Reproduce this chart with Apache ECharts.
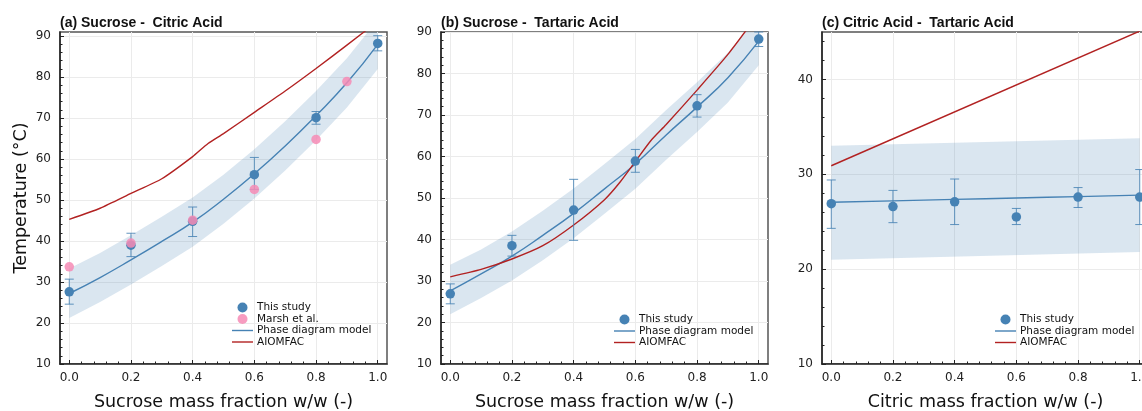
<!DOCTYPE html>
<html>
<head>
  <meta charset="utf-8">
  <title>Melting temperatures - binary mixtures</title>
  <script src="https://cdn.jsdelivr.net/npm/echarts@6.0.0/dist/echarts.min.js"></script>
  <style>
    html, body { margin: 0; padding: 0; background: #fff; }
    #chart { width: 1142px; height: 411px; }
  </style>
</head>
<body>
<div id="chart"></div>
<script>
  // ---- axis ticks ----
  const xMajor = [0, 0.2, 0.4, 0.6, 0.8, 1.0];
  const xMinor = [0.04, 0.08, 0.12, 0.16, 0.24, 0.28, 0.32, 0.36, 0.44, 0.48, 0.52, 0.56,
                  0.64, 0.68, 0.72, 0.76, 0.84, 0.88, 0.92, 0.96];
  const yMajorAB = [10, 20, 30, 40, 50, 60, 70, 80, 90];
  const yMajorC = [10, 20, 30, 40];
  const yMinorAB = [12, 14, 16, 18, 22, 24, 26, 28, 32, 34, 36, 38, 42, 44, 46, 48,
                    52, 54, 56, 58, 62, 64, 66, 68, 72, 74, 76, 78, 82, 84, 86, 88];
  const yMinorC = [12, 14, 16, 18, 22, 24, 26, 28, 32, 34, 36, 38, 42, 44];

  // ---- (a) sucrose - citric acid ----
  const studyX = [0, 0.2, 0.4, 0.6, 0.8, 1.0];
  const aStudy = [27.6, 39.0, 44.8, 56.2, 70.1, 88.2];
  const aStudyLow = [24.6, 36.2, 41.1, 52.6, 68.5, 86.4];
  const aStudyHigh = [30.7, 41.9, 48.3, 60.4, 71.6, 90.1];
  const marshX = [0, 0.2, 0.4, 0.6, 0.8, 0.9];
  const aMarsh = [33.7, 39.5, 45.1, 52.6, 64.8, 78.9];
  const modelX = [0, 0.1, 0.2, 0.3, 0.4, 0.5, 0.6, 0.7, 0.8, 0.9, 1.0];
  const aModel = [27.2, 31.1, 35.4, 39.9, 44.6, 50.2, 56.4, 63.2, 70.6, 78.6, 88.0];
  const aBandLow = [21.2, 25.1, 29.4, 33.9, 38.6, 44.2, 50.4, 57.2, 64.6, 72.6, 82.0];
  const aBandHigh = [33.3, 37.1, 41.4, 45.9, 50.6, 56.2, 62.4, 69.2, 76.6, 84.6, 94.0];
  const aAiomfacX = [0, 0.1, 0.2, 0.3, 0.4, 0.45, 0.5, 0.6, 0.7, 0.8, 0.9, 1.0];
  const aAiomfac = [45.3, 48.0, 51.6, 55.2, 60.6, 63.8, 66.2, 71.4, 76.6, 82.1, 87.8, 93.6];

  // ---- (b) sucrose - tartaric acid ----
  const bStudy = [26.9, 38.5, 47.1, 58.9, 72.2, 88.3];
  const bStudyLow = [24.5, 36.0, 39.8, 56.2, 69.5, 86.5];
  const bStudyHigh = [29.3, 41.0, 54.5, 61.7, 74.9, 90.0];
  const bModel = [27.6, 31.7, 36.0, 41.0, 46.3, 52.2, 58.2, 65.2, 71.9, 79.0, 87.8];
  const bBandLow = [22.0, 25.9, 30.1, 35.0, 40.3, 46.2, 52.2, 59.2, 65.9, 73.0, 82.0];
  const bBandHigh = [33.9, 37.6, 41.9, 46.9, 52.3, 58.2, 64.2, 71.2, 77.9, 85.0, 94.0];
  const bAiomfacX = [0, 0.1, 0.2, 0.3, 0.4, 0.5, 0.55, 0.6, 0.65, 0.7, 0.8, 0.9, 1.0];
  const bAiomfac = [31.0, 32.8, 35.3, 38.5, 43.5, 49.6, 53.8, 58.8, 63.8, 67.7, 76.0, 84.6, 94.5];

  // ---- (c) citric acid - tartaric acid ----
  const cStudy = [26.9, 26.6, 27.1, 25.5, 27.6, 27.6];
  const cStudyLow = [24.3, 24.9, 24.7, 24.7, 26.5, 24.7];
  const cStudyHigh = [29.4, 28.3, 29.5, 26.4, 28.6, 30.5];
  const cModelX = [0, 0.2, 0.4, 0.6, 0.8, 1.0];
  const cModel = [27.05, 27.2, 27.35, 27.5, 27.65, 27.8];
  const cBandX = [0, 1.0];
  const cBandLow = [21.0, 21.8];
  const cBandHigh = [33.0, 33.8];
  const cAiomfacX = [0, 1.0];
  const cAiomfac = [30.9, 45.1];

  const BLUE = '#4682b4';
  const PINK = '#f68bb5';
  const RED = '#b22222';
  const TXT = 'DejaVu Sans';
  const LINE_ICON = 'path://M0,0 L21,0 L21,1.4 L0,1.4 Z';

  const panels = [
    { title: '(a) Sucrose -  Citric Acid', xName: 'Sucrose mass fraction w/w (-)', left: 60, yMax: 91,
      yMajor: yMajorAB, yMinor: yMinorAB, study: aStudy, low: aStudyLow, high: aStudyHigh,
      marsh: aMarsh, modelX: modelX, model: aModel, bandX: modelX, bandLow: aBandLow, bandHigh: aBandHigh,
      aioX: aAiomfacX, aio: aAiomfac, legendLeft: 232, legendTop: 302 },
    { title: '(b) Sucrose -  Tartaric Acid', xName: 'Sucrose mass fraction w/w (-)', left: 441, yMax: 90,
      yMajor: yMajorAB, yMinor: yMinorAB, study: bStudy, low: bStudyLow, high: bStudyHigh,
      marsh: null, modelX: modelX, model: bModel, bandX: modelX, bandLow: bBandLow, bandHigh: bBandHigh,
      aioX: bAiomfacX, aio: bAiomfac, legendLeft: 614, legendTop: 314 },
    { title: '(c) Citric Acid -  Tartaric Acid', xName: 'Citric mass fraction w/w (-)', left: 822, yMax: 45,
      yMajor: yMajorC, yMinor: yMinorC, study: cStudy, low: cStudyLow, high: cStudyHigh,
      marsh: null, modelX: cModelX, model: cModel, bandX: cBandX, bandLow: cBandLow, bandHigh: cBandHigh,
      aioX: cAiomfacX, aio: cAiomfac, legendLeft: 995, legendTop: 314 }
  ];

  const pairs = (xs, ys) => xs.map((x, i) => [x, ys[i]]);

  function errorBars(params, api) {
    const x = api.value(0);
    const p1 = api.coord([x, api.value(1)]);
    const p2 = api.coord([x, api.value(2)]);
    const st = { stroke: BLUE, lineWidth: 1, opacity: 0.85 };
    return {
      type: 'group',
      children: [
        { type: 'line', shape: { x1: p1[0], y1: p1[1], x2: p2[0], y2: p2[1] }, style: st },
        { type: 'line', shape: { x1: p1[0] - 4.5, y1: p1[1], x2: p1[0] + 4.5, y2: p1[1] }, style: st },
        { type: 'line', shape: { x1: p2[0] - 4.5, y1: p2[1], x2: p2[0] + 4.5, y2: p2[1] }, style: st }
      ]
    };
  }

  // uncertainty band as one polygon, clipped to the plot area
  function bandRenderer(p) {
    return function (params, api) {
      if (params.dataIndex !== 0) return null;
      const upper = p.bandX.map((x, k) => api.coord([x, p.bandHigh[k]]));
      const lower = p.bandX.map((x, k) => api.coord([x, p.bandLow[k]])).reverse();
      const cs = params.coordSys;
      return {
        type: 'polygon',
        shape: { points: upper.concat(lower), smooth: 0 },
        style: { fill: 'rgba(70,130,180,0.2)' },
        clipPath: { type: 'rect', shape: { x: cs.x, y: cs.y, width: cs.width, height: cs.height } }
      };
    };
  }

  const option = {
    animation: false,
    backgroundColor: '#fff',
    title: [], grid: [], xAxis: [], yAxis: [], legend: [], series: []
  };

  panels.forEach(function (p, i) {
    option.title.push({
      text: p.title, left: p.left, top: 16, padding: 0,
      textStyle: { fontFamily: 'Liberation Sans', fontWeight: 'bold', fontSize: 14, color: '#111' }
    });
    option.grid.push({
      left: p.left, top: 32, width: 327, height: 332, show: true,
      borderColor: '#555', borderWidth: 1.5, backgroundColor: 'transparent',
      outerBoundsMode: 'none'
    });
    // main x axis: labels, major ticks, grid lines
    option.xAxis.push({
      type: 'value', gridIndex: i, min: -0.03, max: 1.03, position: 'bottom',
      name: p.xName, nameLocation: 'middle', nameGap: 29,
      nameTextStyle: { fontFamily: TXT, fontSize: 17.5, color: '#111' },
      axisLine: { show: true, onZero: false, lineStyle: { color: '#222', width: 1.5 } },
      axisTick: { show: true, inside: true, length: 4, customValues: xMajor, lineStyle: { color: '#222' } },
      axisLabel: { customValues: xMajor, formatter: v => v.toFixed(1), fontFamily: TXT, fontSize: 12, color: '#222', margin: 8 },
      splitLine: { show: true, lineStyle: { color: '#ebebeb', width: 1 } }
    });
    // minor x ticks
    option.xAxis.push({
      type: 'value', gridIndex: i, min: -0.03, max: 1.03, position: 'bottom',
      axisLine: { show: false, onZero: false },
      axisTick: { show: true, inside: true, length: 2.5, customValues: xMinor, lineStyle: { color: '#222' } },
      axisLabel: { show: false }, splitLine: { show: false }
    });
    option.yAxis.push({
      type: 'value', gridIndex: i, min: 10, max: p.yMax, position: 'left',
      name: i === 0 ? 'Temperature (°C)' : '', nameLocation: 'middle', nameGap: 30,
      nameTextStyle: { fontFamily: TXT, fontSize: 17.5, color: '#111' },
      axisLine: { show: true, onZero: false, lineStyle: { color: '#222', width: 1.5 } },
      axisTick: { show: true, inside: true, length: 4, customValues: p.yMajor, lineStyle: { color: '#222' } },
      axisLabel: { customValues: p.yMajor, fontFamily: TXT, fontSize: 12, color: '#222', margin: 9 },
      splitLine: { show: true, lineStyle: { color: '#ebebeb', width: 1 } }
    });
    option.yAxis.push({
      type: 'value', gridIndex: i, min: 10, max: p.yMax, position: 'left',
      axisLine: { show: false, onZero: false },
      axisTick: { show: true, inside: true, length: 2.5, customValues: p.yMinor, lineStyle: { color: '#222' } },
      axisLabel: { show: false }, splitLine: { show: false }
    });

    const ax = { xAxisIndex: 2 * i, yAxisIndex: 2 * i };
    option.series.push(Object.assign({
      type: 'custom', name: 'band-' + i, renderItem: bandRenderer(p),
      data: pairs(p.bandX, p.bandLow), silent: true, z: 1
    }, ax));
    option.series.push(Object.assign({
      type: 'line', name: 'Phase diagram model', data: pairs(p.modelX, p.model), smooth: true,
      symbol: 'none', lineStyle: { color: BLUE, width: 1.4 }, itemStyle: { color: BLUE }, z: 3
    }, ax));
    option.series.push(Object.assign({
      type: 'line', name: 'AIOMFAC', data: pairs(p.aioX, p.aio), smooth: 0.2,
      symbol: 'none', lineStyle: { color: RED, width: 1.4 }, itemStyle: { color: RED }, z: 3
    }, ax));
    option.series.push(Object.assign({
      type: 'custom', name: 'err-' + i, renderItem: errorBars,
      data: studyX.map((x, k) => [x, p.low[k], p.high[k]]), z: 4, silent: true
    }, ax));
    option.series.push(Object.assign({
      type: 'scatter', name: 'This study', data: pairs(studyX, p.study),
      symbolSize: 9.5, itemStyle: { color: BLUE, opacity: 1 }, z: 5
    }, ax));
    const names = ['This study'];
    if (p.marsh) {
      option.series.push(Object.assign({
        type: 'scatter', name: 'Marsh et al.', data: pairs(marshX, p.marsh),
        symbolSize: 9.5, itemStyle: { color: PINK, opacity: 0.85 }, z: 6
      }, ax));
      names.push('Marsh et al.');
    }
    names.push('Phase diagram model', 'AIOMFAC');
    option.legend.push({
      orient: 'vertical', left: p.legendLeft, top: p.legendTop,
      itemWidth: 21, itemHeight: 10, itemGap: 0.5, padding: 0, symbolKeepAspect: true,
      textStyle: { fontFamily: TXT, fontSize: 10.5, color: '#111', lineHeight: 11, padding: [0, 0, 0, -1] },
      data: names.map(n => ({ name: n, icon: n === 'This study' || n === 'Marsh et al.' ? 'circle' : LINE_ICON })),
      selectedMode: false
    });
  });

  const chart = echarts.init(document.getElementById('chart'), null, { renderer: 'canvas' });
  chart.setOption(option);
</script>
</body>
</html>
